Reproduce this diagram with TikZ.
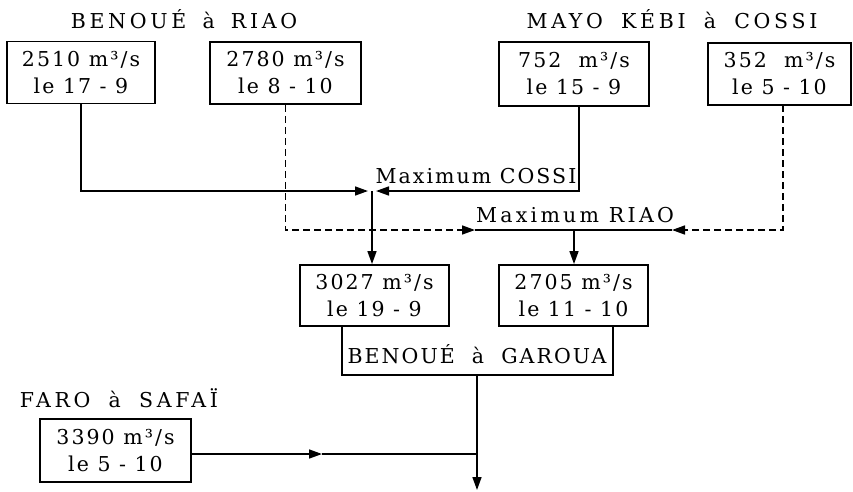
\documentclass[tikz,border=0pt]{standalone}
\usepackage{fontspec}
\setmainfont{DejaVu Serif}[LetterSpace=10]
\usetikzlibrary{arrows.meta}
\newcommand\gp[1]{\hspace{#1pt}}
\begin{document}
\begin{tikzpicture}[x=1pt,y=-1pt,
  valbox/.style={draw,line width=1.9pt,minimum width=148pt,minimum height=62pt,inner sep=0pt,align=center,font=\fontsize{20.5}{27}\selectfont},
  lbl/.style={inner sep=0pt,font=\fontsize{20.5}{24}\selectfont},
  conn/.style={line width=1.6pt},
  dconn/.style={conn,dash pattern=on 7pt off 4pt},
  arr/.style={-{Triangle[length=13pt,width=9pt]}}
]
\useasboundingbox (0,0) rectangle (853,491);

% value boxes
\node[valbox] (a) at (81,72.5) {2510 m³/s\\le 17 - 9};
\node[valbox,minimum width=151pt] (b) at (285.5,73) {2780 m³/s\\le 8 - 10};
\node[valbox,minimum width=150pt,minimum height=64pt] (c) at (574,74) {752\ \ m³/s\\le 15 - 9};
\node[valbox,minimum width=143pt] (d) at (779.5,74) {352\ \ m³/s\\le 5\ - 10};
\node[valbox,minimum width=149pt,minimum height=61pt] (e) at (374.5,295.5) {3027 m³/s\\le 19 - 9};
\node[valbox,minimum width=149pt,minimum height=61pt] (f) at (573.5,295.5) {2705 m³/s\\le 11 - 10};
\node[valbox,minimum width=151pt,minimum height=63pt] (g) at (115.5,450.5) {3390 m³/s\\le 5 - 10};

% labels
\node[lbl] (t1) at (184,19) {\addfontfeatures{LetterSpace=18}BENOUÉ\gp{6} à\gp{6} RIAO};
\node[lbl] (t2) at (672,19) {\addfontfeatures{LetterSpace=18}MAYO\gp{8} KÉBI\gp{8} à\gp{8} COSSI};
\node[lbl] (t3) at (119,398) {\addfontfeatures{LetterSpace=18}FARO\gp{8} à\gp{8} SAFAÏ};
\node[lbl] (mc) at (476,176) {Maximum COSSI};
\node[lbl] (mr) at (575,215) {\addfontfeatures{LetterSpace=16}Maximum RIAO};
\node[lbl] (bg) at (477,354) {BENOUÉ\ \ à\ \ GAROUA};

% helper coordinates
\coordinate (j1) at (372,191);
\coordinate (j1l) at (368,191);
\coordinate (j1r) at (376,191);
\coordinate (cb) at (579,106);
\coordinate (j2) at (574,230);
\coordinate (r1) at (475,230);
\coordinate (r2) at (672,230);
\coordinate (db) at (783,105);
\coordinate (eb) at (342,326);
\coordinate (fb) at (613,326);
\coordinate (gl) at (342,375);
\coordinate (gr) at (613,375);
\coordinate (gm) at (477,375);
\coordinate (out) at (477,490);
\coordinate (fm) at (322,454);

% connectors
\draw[conn,arr] (a.south) -- (a.south |- j1) -- (j1l);
\draw[conn,arr] (cb) -- (cb |- j1) -- (j1r);
\draw[conn,arr] (j1) -- (j1 |- e.north);
\draw[dconn,arr] (b.south) -- (b.south |- r1) -- (r1);
\draw[conn] (r1) -- (r2);
\draw[dconn,arr] (db) -- (db |- r2) -- (r2);
\draw[conn,arr] (j2) -- (j2 |- f.north);
\draw[conn] (eb) -- (gl) -- (gr) -- (fb);
\draw[conn,arr] (gm) -- (out);
\draw[conn,arr] (g.east |- fm) -- (fm);
\draw[conn] (fm) -- (fm -| gm);
\end{tikzpicture}
\end{document}
